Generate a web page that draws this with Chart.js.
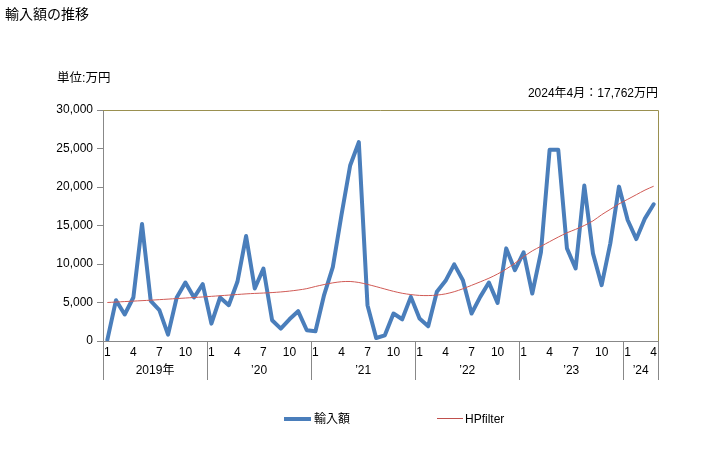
<!DOCTYPE html>
<html>
<head>
<meta charset="utf-8">
<script src="https://cdn.jsdelivr.net/npm/chart.js@4.4.1/dist/chart.umd.min.js"></script>
<style>
  body { margin: 0; background: #fff; }
  #wrap { position: relative; width: 728px; height: 450px; font-family: 'Liberation Sans', 'Noto Sans CJK JP', sans-serif; color: #000; }
  #wrap canvas { position: absolute; left: 0; top: 0; }
  .txt { position: absolute; white-space: nowrap; }
  .leg { position: absolute; top: 410px; font-size: 12px; line-height: 16px; }
  .leg span { display: inline-block; vertical-align: middle; }
</style>
</head>
<body>
<div id="wrap">
  <canvas id="myChart" width="728" height="450"></canvas>
  <div class="txt" style="left:5px; top:3px; font-size:14px;">輸入額の推移</div>
  <div class="txt" style="left:57px; top:67px; font-size:12.5px;">単位:万円</div>
  <div class="txt" style="right:70px; top:83px; font-size:12px;">2024年4月：17,762万円</div>
  <div class="leg" style="left:284px;"><span style="width:27px; border-top:4px solid #4a7ebb;"></span><span style="margin-left:3px;">輸入額</span></div>
  <div class="leg" style="left:437px;"><span style="width:26px; border-top:1px solid #c0504d;"></span><span style="margin-left:2px;">HPfilter</span></div>
</div>
<script>
// 月ラベル (2019/1 - 2024/4)
var months = [
  '2019/1','2019/2','2019/3','2019/4','2019/5','2019/6','2019/7','2019/8','2019/9','2019/10','2019/11','2019/12',
  '2020/1','2020/2','2020/3','2020/4','2020/5','2020/6','2020/7','2020/8','2020/9','2020/10','2020/11','2020/12',
  '2021/1','2021/2','2021/3','2021/4','2021/5','2021/6','2021/7','2021/8','2021/9','2021/10','2021/11','2021/12',
  '2022/1','2022/2','2022/3','2022/4','2022/5','2022/6','2022/7','2022/8','2022/9','2022/10','2022/11','2022/12',
  '2023/1','2023/2','2023/3','2023/4','2023/5','2023/6','2023/7','2023/8','2023/9','2023/10','2023/11','2023/12',
  '2024/1','2024/2','2024/3','2024/4'
];
var yearLabels = ['2019年', '\u201920', '\u201921', '\u201922', '\u201923', '\u201924'];
var monthTicks = ['1', '4', '7', '10'];
var yTicks = [0, 5000, 10000, 15000, 20000, 25000, 30000];

// 輸入額 (万円)
var imports = [
  150, 5300, 3440, 5650, 15200, 5210, 4000, 830, 5650, 7600, 5650, 7380,
  2260, 5650, 4650, 7690, 13630, 6820, 9420, 2700, 1610, 2820, 3870, 1390,
  1260, 6000, 9600, 16360, 22790, 25820, 4650, 390, 740, 3570, 2820, 5730,
  2910, 1910, 6400, 7810, 9950, 7900, 3570, 5730, 7600, 4950, 12030, 9200,
  11510, 6170, 11500, 24830, 24830, 12030, 9420, 20180, 11380, 7250, 12680, 20050,
  15710, 13240, 15930, 17762
];
// HPfilter
var hpFilter = [
  5000, 5060, 5120, 5180, 5240, 5300, 5370, 5440, 5510, 5580, 5650, 5720,
  5800, 5880, 5960, 6040, 6120, 6180, 6230, 6290, 6370, 6480, 6620, 6800,
  7080, 7330, 7550, 7700, 7730, 7600, 7350, 7060, 6750, 6450, 6200, 6030,
  5920, 5900, 5960, 6120, 6400, 6780, 7230, 7680, 8150, 8700, 9350, 10100,
  10950, 11700, 12300, 12900, 13500, 14050, 14500, 15000, 15600, 16400, 17100, 17800,
  18400, 19000, 19600, 20100
];

var FONT = "'Liberation Sans', 'Noto Sans CJK JP', sans-serif";

// 枠線・年区切り・年ラベル
var yearAxisPlugin = {
  id: 'yearAxis',
  afterDraw: function (chart) {
    var ctx = chart.ctx;
    var area = chart.chartArea;
    var x = chart.scales.x;
    var half = (x.getPixelForValue(1) - x.getPixelForValue(0)) / 2;

    ctx.save();
    // 上・右の枠
    ctx.strokeStyle = '#9a9050';
    ctx.lineWidth = 1;
    ctx.beginPath();
    ctx.moveTo(area.left, Math.round(area.top) + 0.5);
    ctx.lineTo(Math.round(area.right) + 0.5, Math.round(area.top) + 0.5);
    ctx.lineTo(Math.round(area.right) + 0.5, area.bottom);
    ctx.stroke();

    // 年の区切り線
    ctx.strokeStyle = '#888';
    var bounds = [];
    for (var i = 0; i < months.length; i++) {
      if (months[i].split('/')[1] === '1') bounds.push(i);
    }
    var edges = bounds.map(function (i) { return x.getPixelForValue(i) - half; });
    edges.push(x.getPixelForValue(months.length - 1) + half);
    ctx.beginPath();
    edges.forEach(function (px) {
      ctx.moveTo(Math.round(px) + 0.5, area.bottom);
      ctx.lineTo(Math.round(px) + 0.5, area.bottom + 39);
    });
    ctx.stroke();

    // 年ラベル
    ctx.fillStyle = '#000';
    ctx.font = '12px ' + FONT;
    ctx.textAlign = 'center';
    ctx.textBaseline = 'middle';
    for (var k = 0; k < yearLabels.length; k++) {
      ctx.fillText(yearLabels[k], (edges[k] + edges[k + 1]) / 2, area.bottom + 30);
    }
    ctx.restore();
  }
};

var ctx1 = document.getElementById('myChart').getContext('2d');
var chart = new Chart(ctx1, {
  type: 'line',
  data: {
    labels: months,
    datasets: [{
      label: '輸入額',
      data: imports,
      borderColor: '#4a7ebb',
      borderWidth: 4,
      borderJoinStyle: 'round',
      borderCapStyle: 'round',
      pointRadius: 0,
      tension: 0,
      order: 2
    }, {
      label: 'HPfilter',
      data: hpFilter,
      borderColor: '#d05a55',
      borderWidth: 1,
      pointRadius: 0,
      tension: 0.3,
      order: 1
    }]
  },
  options: {
    responsive: false,
    animation: false,
    layout: { padding: { top: 110, right: 70, left: 0, bottom: 0 } },
    plugins: {
      legend: { display: false },
      tooltip: { enabled: false }
    },
    scales: {
      x: {
        offset: true,
        grid: { display: false, drawTicks: false },
        border: { display: true, color: '#888' },
        afterFit: function (s) { s.height = 109; },
        ticks: {
          autoSkip: false,
          maxRotation: 0,
          padding: 4,
          color: '#000',
          font: { family: FONT, size: 12 },
          callback: function (v, i) {
            var m = months[i].split('/')[1];
            return monthTicks.indexOf(m) >= 0 ? m : '';
          }
        }
      },
      y: {
        min: 0,
        max: 30000,
        afterFit: function (s) { s.width = 103; },
        afterBuildTicks: function (s) { s.ticks = yTicks.map(function (v) { return { value: v }; }); },
        grid: { drawOnChartArea: false, tickLength: 6, color: '#888' },
        border: { display: true, color: '#888' },
        ticks: {
          padding: 4,
          color: '#000',
          font: { family: FONT, size: 12 },
          callback: function (v) { return v.toLocaleString('en-US'); }
        }
      }
    }
  },
  plugins: [yearAxisPlugin]
});
</script>
</body>
</html>
